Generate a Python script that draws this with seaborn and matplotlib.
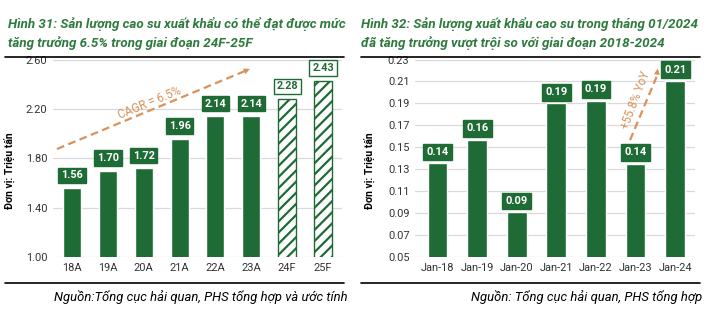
import matplotlib
matplotlib.use("Agg")
import matplotlib.pyplot as plt
from matplotlib.lines import Line2D
import seaborn as sns

# ---- data -------------------------------------------------------------
years = ["18A", "19A", "20A", "21A", "22A", "23A", "24F", "25F"]
annual_volume = [1.56, 1.70, 1.72, 1.96, 2.14, 2.14, 2.28, 2.43]
forecast_flags = [False, False, False, False, False, False, True, True]
annual_ticks = [1.00, 1.40, 1.80, 2.20, 2.60]

months = ["Jan-18", "Jan-19", "Jan-20", "Jan-21", "Jan-22", "Jan-23", "Jan-24"]
jan_volume = [0.1355, 0.157, 0.091, 0.190, 0.1925, 0.1352, 0.2106]
jan_labels = ["0.14", "0.16", "0.09", "0.19", "0.19", "0.14", "0.21"]
jan_ticks = [0.05, 0.07, 0.09, 0.11, 0.13, 0.15, 0.17, 0.19, 0.21, 0.23]

title_left = ["Hình 31: Sản lượng cao su xuất khẩu có thể đạt được mức",
              "tăng trưởng 6.5% trong giai đoạn 24F-25F"]
title_right = ["Hình 32: Sản lượng xuất khẩu cao su trong tháng 01/2024",
               "đã tăng trưởng vượt trội so với giai đoạn 2018-2024"]
source_left = "Nguồn:Tổng cục hải quan, PHS tổng hợp và ước tính"
source_right = "Nguồn: Tổng cục hải quan, PHS tổng hợp"
unit_label = "Đơn vị: Triệu tấn"

# ---- style ------------------------------------------------------------
GREEN = "#1f6b36"
TITLE_GREEN = "#2f7a3e"
ORANGE = "#d9925b"
GRID = "#d9d9d9"
TEXT = "#333333"

sns.set_theme(style="white")
plt.rcParams["font.family"] = ["Roboto", "DejaVu Sans"]
plt.rcParams["hatch.linewidth"] = 1.6

W, H = 716, 323
fig = plt.figure(figsize=(W / 100, H / 100), dpi=100)


def fx(px):
    return px / W


def fy(py):
    return 1 - py / H


ax1 = fig.add_axes([fx(53), fy(257.3), fx(342 - 53), (257.3 - 59.5) / H])
ax2 = fig.add_axes([fx(415), fy(257.3), fx(695 - 415), (257.3 - 59.5) / H])


def style_axis(ax, ticks, fmt):
    ax.set_ylim(ticks[0], ticks[-1])
    ax.set_yticks(ticks)
    ax.set_yticklabels([fmt.format(t) for t in ticks])
    ax.yaxis.grid(True, color=GRID, lw=0.9)
    ax.set_axisbelow(True)
    for s in ax.spines.values():
        s.set_visible(False)
    ax.tick_params(axis="both", length=0, labelsize=7.9, colors=TEXT, pad=4)
    ax.set_xlabel("")
    ax.set_ylabel(unit_label, fontsize=7.5, fontweight="bold", color="black")


# ---- left chart: annual volume ----------------------------------------
sns.barplot(x=years, y=annual_volume, color=GREEN, width=0.5, saturation=1,
            ax=ax1)
for patch, fc in zip(ax1.patches, forecast_flags):
    if fc:
        patch.set_facecolor("white")
        patch.set_edgecolor(GREEN)
        patch.set_hatch("///")
        patch.set_linewidth(1.0)
style_axis(ax1, annual_ticks, "{:.2f}")
ax1.set_xlim(-0.53, 7.53)
ax1.yaxis.set_label_coords(-0.131, 0.44)

for i, (v, fc) in enumerate(zip(annual_volume, forecast_flags)):
    if fc:
        box = dict(boxstyle="square,pad=0.25", fc="white", ec=GREEN, lw=1.0)
        col = GREEN
    else:
        box = dict(boxstyle="square,pad=0.25", fc=GREEN, ec=GREEN, lw=1.0)
        col = "white"
    ax1.annotate(f"{v:.2f}", (i, v), xytext=(0, 5.5), textcoords="offset points",
                 ha="center", va="bottom", fontsize=7.8, fontweight="bold",
                 color=col, bbox=box)

# CAGR trend arrow
a_start, a_end = (-0.42, 1.876), (4.96, 2.523)
ax1.plot([a_start[0], a_end[0] - 0.15], [a_start[1], a_end[1] - 0.018],
         color=ORANGE, lw=1.6, ls=(0, (3.5, 2)), solid_capstyle="butt")
ax1.annotate("", xy=a_end, xytext=(a_end[0] - 0.3, a_end[1] - 0.036),
             arrowprops=dict(arrowstyle="-|>", color=ORANGE, lw=0,
                             mutation_scale=11, shrinkA=0, shrinkB=0))
ax1.text(2.17, 2.248, "CAGR = 6.5%", rotation=22.5, rotation_mode="anchor",
         ha="center", va="center", fontsize=8.4, color=ORANGE)

# ---- right chart: January volume --------------------------------------
sns.barplot(x=months, y=jan_volume, color=GREEN, width=0.5, saturation=1,
            ax=ax2)
style_axis(ax2, jan_ticks, "{:.2f}")
ax2.set_xlim(-0.57, 6.5)
ax2.yaxis.set_label_coords(-0.143, 0.44)

for i, (v, lab) in enumerate(zip(jan_volume, jan_labels)):
    ax2.annotate(lab, (i, v), xytext=(0, 4.5), textcoords="offset points",
                 ha="center", va="bottom", fontsize=8, fontweight="bold",
                 color="white",
                 bbox=dict(boxstyle="square,pad=0.3", fc=GREEN, ec=GREEN))

# YoY growth arrow
b_start, b_end = (4.86, 0.1566), (5.56, 0.2218)
ax2.plot([b_start[0], b_end[0] - 0.03], [b_start[1], b_end[1] - 0.0075],
         color=ORANGE, lw=1.6, ls=(0, (3.5, 2)), solid_capstyle="butt")
ax2.annotate("", xy=b_end, xytext=(b_end[0] - 0.06, b_end[1] - 0.015),
             arrowprops=dict(arrowstyle="-|>", color=ORANGE, lw=0,
                             mutation_scale=11, shrinkA=0, shrinkB=0))
ax2.text(4.99, 0.193, "+55.8% YoY", rotation=69, rotation_mode="anchor",
         ha="center", va="center", fontsize=8.4, color=ORANGE)

# ---- titles, rules and sources ----------------------------------------
for x0, lines in ((8, title_left), (361, title_right)):
    for k, line in enumerate(lines):
        fig.text(fx(x0), fy(24 + 19.5 * k), line, ha="left", va="center",
                 fontsize=9.6, fontweight="bold", fontstyle="italic",
                 color=TITLE_GREEN)

for x0, x1 in ((5, 344), (361, 700)):
    fig.add_artist(Line2D([fx(x0), fx(x1)], [fy(57), fy(57)], color="black",
                          lw=1.2))
    fig.add_artist(Line2D([fx(x0), fx(x1)], [fy(283), fy(283)],
                          color="black", lw=1.2))

narrow = ["Liberation Sans Narrow", "Roboto", "DejaVu Sans"]
fig.text(fx(348), fy(297), source_left, ha="right", va="center",
         fontsize=9.35, fontstyle="italic", family=narrow, color="black")
fig.text(fx(702), fy(297), source_right, ha="right", va="center",
         fontsize=9.35, fontstyle="italic", family=narrow, color="black")

fig.savefig("out.png", dpi=100, facecolor="white")
